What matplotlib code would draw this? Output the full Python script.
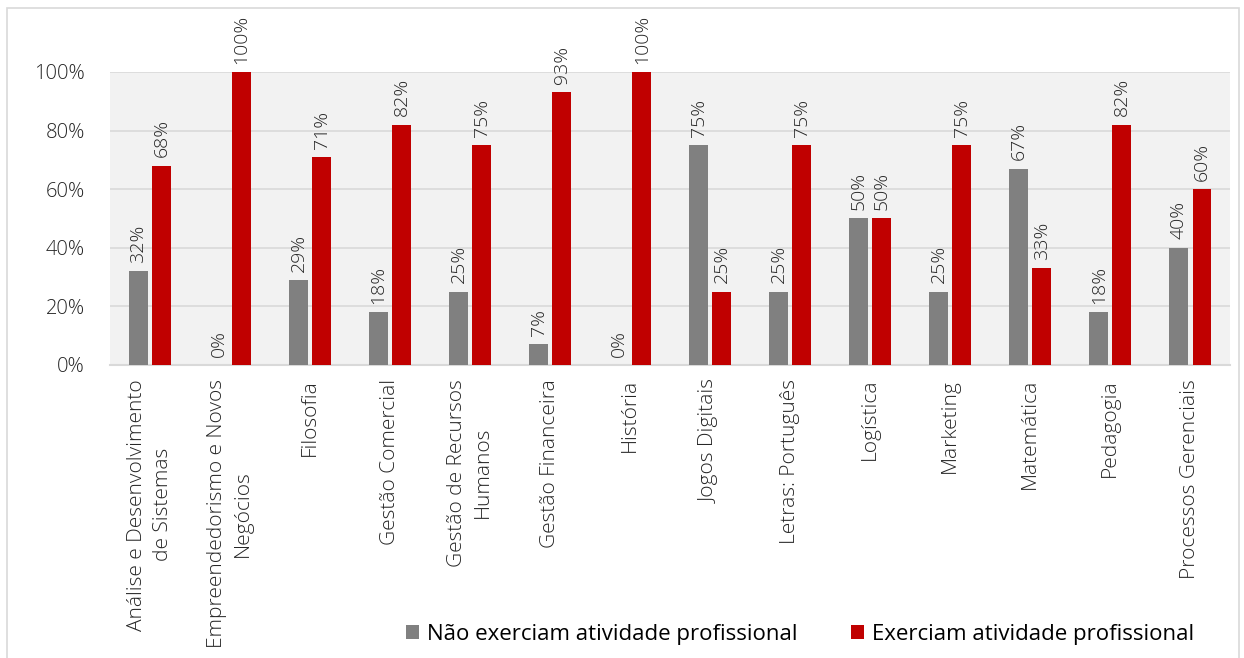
import matplotlib
matplotlib.use("Agg")
import matplotlib.pyplot as plt
from matplotlib.patches import Rectangle
import numpy as np

cursos = ["Análise e Desenvolvimento\nde Sistemas", "Empreendedorismo e Novos\nNegócios",
          "Filosofia", "Gestão Comercial", "Gestão de Recursos\nHumanos", "Gestão Financeira",
          "História", "Jogos Digitais", "Letras: Português", "Logística", "Marketing",
          "Matemática", "Pedagogia", "Processos Gerenciais"]
nao_exerciam = [32, 0, 29, 18, 25, 7, 0, 75, 25, 50, 25, 67, 18, 40]
exerciam = [68, 100, 71, 82, 75, 93, 100, 25, 75, 50, 75, 33, 82, 60]

plt.rcParams["font.family"] = ["Open Sans", "DejaVu Sans"]
txt = "#262626"

fig = plt.figure(figsize=(12.44, 6.58), dpi=100)
ax = fig.add_axes([0.0884, 0.4453, 0.9006, 0.4453])
ax.set_facecolor("#F2F2F2")

# chart border
fig.patches.append(Rectangle((0.006, -0.01), 0.99, 0.998, transform=fig.transFigure,
                             fill=False, edgecolor="#D9D9D9", linewidth=1.2))

x = np.arange(len(cursos))
w = 0.235
g = ax.bar(x - 0.145, np.array(nao_exerciam) / 100, w, color="#808080", zorder=3,
           label="Não exerciam atividade profissional")
r = ax.bar(x + 0.145, np.array(exerciam) / 100, w, color="#C00000", zorder=3,
           label="Exerciam atividade profissional")

for bars, vals in [(g, nao_exerciam), (r, exerciam)]:
    for b, v in zip(bars, vals):
        ax.annotate(f"{v}%", (b.get_x() + b.get_width() / 2, b.get_height()),
                    xytext=(0, 6), textcoords="offset points", rotation=90,
                    ha="center", va="bottom", fontsize=14, color=txt,
                    fontweight="light", annotation_clip=False)

ax.set_xlim(-0.5, len(cursos) - 0.5)
ax.set_ylim(0, 1.0)
ax.set_yticks([0, 0.2, 0.4, 0.6, 0.8, 1.0])
ax.set_yticklabels(["0%", "20%", "40%", "60%", "80%", "100%"], fontsize=14.5,
                   color=txt, fontweight="light")
ax.set_xticks(x)
ax.set_xticklabels(cursos, rotation=90, fontsize=15, color=txt, fontweight="light",
                   ha="center", va="top", multialignment="center", linespacing=1.35)
ax.tick_params(length=0, pad=10)
ax.tick_params(axis="y", pad=18)
ax.grid(axis="y", color="#D9D9D9", linewidth=1.2, zorder=0)
for s in ["top", "right", "left"]:
    ax.spines[s].set_visible(False)
ax.spines["bottom"].set_color("#D9D9D9")
ax.spines["bottom"].set_linewidth(1.5)

fig.legend(loc="center", bbox_to_anchor=(0.643, 0.036), ncol=2, frameon=False,
           fontsize=16, handlelength=0.6, handleheight=0.6, handletextpad=0.35,
           columnspacing=2.4)

fig.savefig("out.png", dpi=100)
